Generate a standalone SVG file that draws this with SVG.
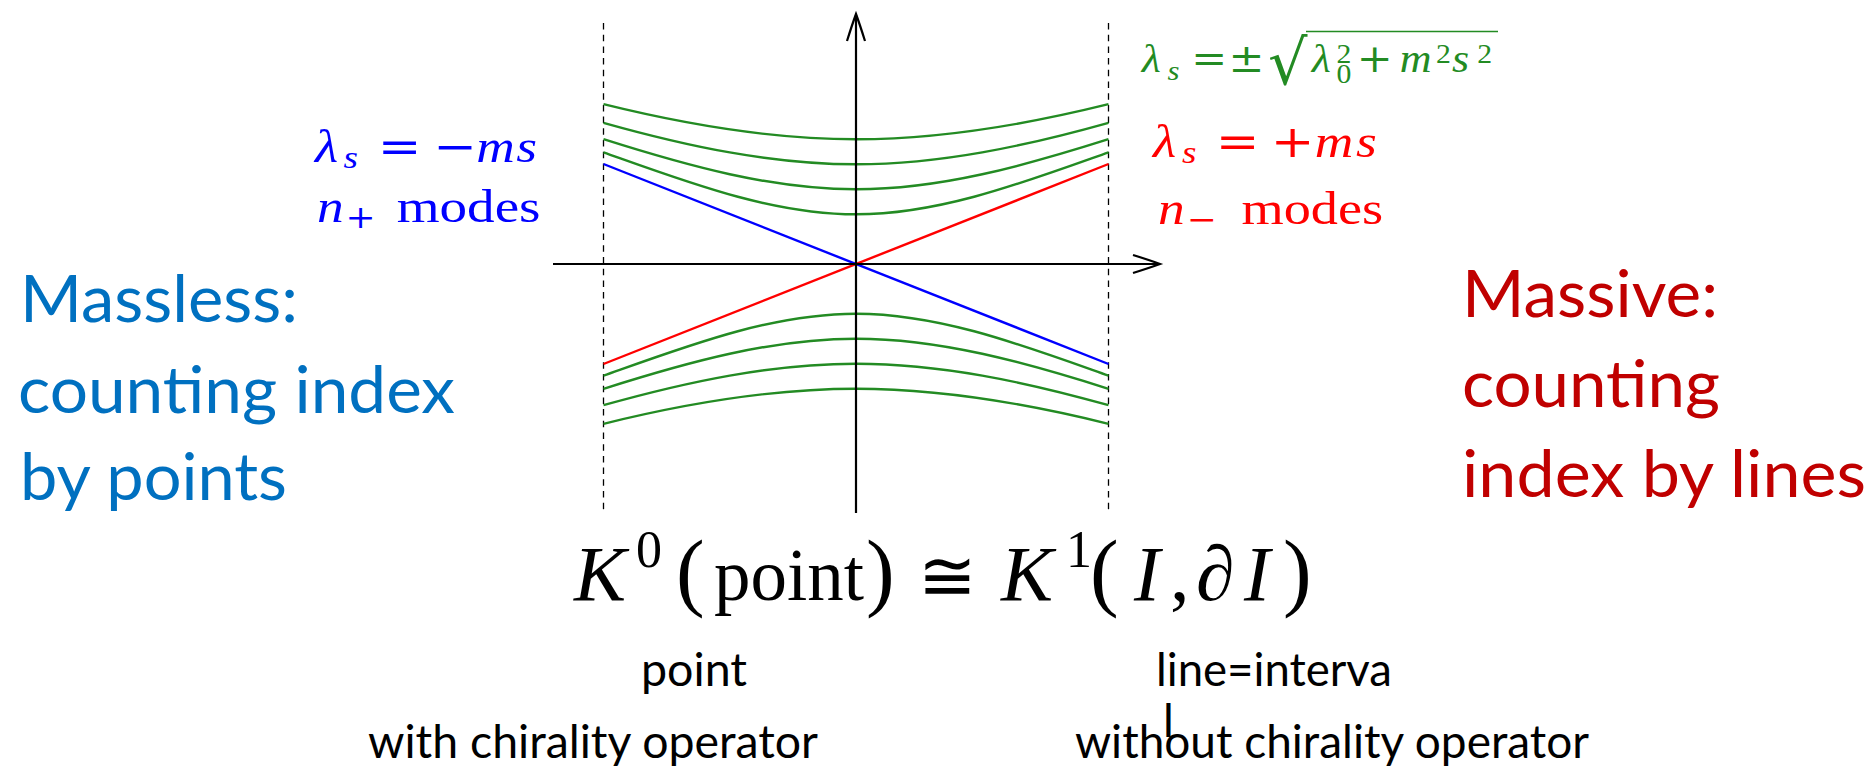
<svg xmlns="http://www.w3.org/2000/svg" width="1872" height="771" viewBox="0 0 1872 771">
<style>
.ax{stroke:#000;stroke-width:2.2;fill:none}
.dash{stroke:#000;stroke-width:1.3;stroke-dasharray:6.5 5.2;fill:none}
.g{stroke:#238b23;stroke-width:2.4;fill:none}
.b{stroke:#0000ff;stroke-width:2.4;fill:none}
.r{stroke:#ff0000;stroke-width:2.4;fill:none}
.m{font-family:"Liberation Serif","DejaVu Serif",serif}
.i{font-style:italic}
.op{font-family:"DejaVu Serif","Liberation Serif",serif}
.cal{font-family:Lato,"Open Sans",sans-serif}
</style>
<rect width="1872" height="771" fill="#fff"/>
<g id="plot">
<line class="dash" x1="603.5" y1="23" x2="603.5" y2="513"/>
<line class="dash" x1="1108.5" y1="23" x2="1108.5" y2="513"/>
<g id="green-curves">
<path class="g" d="M603.5,104.2 C687.67,125.06 771.83,139.3 856,139.3 C940.17,139.3 1024.33,125.06 1108.5,104.2"/>
<path class="g" d="M603.5,122.8 C687.67,146.4 771.83,164.3 856,164.3 C940.17,164.3 1024.33,146.4 1108.5,122.8"/>
<path class="g" d="M603.5,139.2 C687.67,165.9 771.83,189.3 856,189.3 C940.17,189.3 1024.33,165.9 1108.5,139.2"/>
<path class="g" d="M603.5,152.3 C687.67,182.2 771.83,214.3 856,214.3 C940.17,214.3 1024.33,182.2 1108.5,152.3"/>
<path class="g" d="M603.5,375.7 C687.67,345.8 771.83,313.7 856,313.7 C940.17,313.7 1024.33,345.8 1108.5,375.7"/>
<path class="g" d="M603.5,388.8 C687.67,362.1 771.83,338.7 856,338.7 C940.17,338.7 1024.33,362.1 1108.5,388.8"/>
<path class="g" d="M603.5,405.2 C687.67,381.6 771.83,363.7 856,363.7 C940.17,363.7 1024.33,381.6 1108.5,405.2"/>
<path class="g" d="M603.5,423.8 C687.67,402.9 771.83,388.7 856,388.7 C940.17,388.7 1024.33,402.9 1108.5,423.8"/>
</g>
<path id="blue-line" class="b" d="M603.5,164 L1108.5,364"/>
<path id="red-line" class="r" d="M603.5,364 L1108.5,164"/>
<g id="axes">
<line class="ax" x1="856" y1="15" x2="856" y2="513"/>
<line class="ax" x1="553" y1="264" x2="1159" y2="264"/>
<path class="ax" d="M847,41 Q852,25 856,14 Q860,25 865,41"/>
<path class="ax" d="M1133,255 Q1149,260 1160,264 Q1149,268 1133,273"/>
</g>
</g>
<g id="lbl-minus" fill="#0000ff" transform="translate(315,162) scale(1.16,1)">
<text class="m i" font-size="46" x="0" y="0">λ</text>
<text class="m i" font-size="32" x="24.5" y="6">s</text>
<text class="op" font-size="45" x="54" y="0">=</text>
<text class="op" font-size="45" x="102" y="0">−</text>
<text class="m i" font-size="46" x="139" y="0">m</text>
<text class="m i" font-size="46" x="173.5" y="0">s</text>
</g>
<g id="lbl-nplus" fill="#0000ff" transform="translate(317,222) scale(1.16,1)">
<text class="m i" font-size="46" x="0" y="0">n</text>
<text class="op" font-size="31" x="24.5" y="6">+</text>
<text class="m" font-size="46" x="68.7" y="0" textLength="124" lengthAdjust="spacingAndGlyphs">modes</text>
</g>
<g id="lbl-plus" fill="#ff0000" transform="translate(1153,157) scale(1.16,1)">
<text class="m i" font-size="46" x="0" y="0">λ</text>
<text class="m i" font-size="32" x="25" y="6">s</text>
<text class="op" font-size="45" x="54" y="0">=</text>
<text class="op" font-size="45" x="101.5" y="0">+</text>
<text class="m i" font-size="46" x="139.5" y="0">m</text>
<text class="m i" font-size="46" x="175" y="0">s</text>
</g>
<g id="lbl-nminus" fill="#ff0000" transform="translate(1158,224) scale(1.16,1)">
<text class="m i" font-size="46" x="0" y="0">n</text>
<text class="op" font-size="31" x="25" y="6">−</text>
<text class="m" font-size="46" x="72" y="0" textLength="122" lengthAdjust="spacingAndGlyphs">modes</text>
</g>
<g id="lbl-sqrt" fill="#238b23">
<g transform="translate(1141.7,71.7) scale(1.1,1)">
<text class="m i" font-size="40" x="0" y="0">λ</text>
<text class="m i" font-size="28" x="23.5" y="8.3">s</text>
<text class="op" font-size="39" x="45" y="0">=</text>
<text class="op" font-size="39" x="79" y="0">±</text>
<text class="m i" font-size="40" x="154.5" y="0">λ</text>
<text class="m" font-size="27" x="177" y="-9">2</text>
<text class="m" font-size="27" x="177" y="11.6">0</text>
<text class="op" font-size="39" x="195.5" y="0">+</text>
<text class="m i" font-size="40" x="234.5" y="0">m</text>
<text class="m" font-size="27" x="267.5" y="-9">2</text>
<text class="m i" font-size="40" x="282" y="0">s</text>
<text class="m" font-size="27" x="305" y="-9">2</text>
</g>
<text class="op" font-size="62" x="1268" y="84">√</text>
<line x1="1306" y1="31.5" x2="1498" y2="31.5" stroke="#238b23" stroke-width="1.6"/>
</g>
<g id="kformula" fill="#000">
<text class="m i" font-size="78" x="574" y="600">K</text>
<text class="m" font-size="52" x="636" y="567">0</text>
<text class="m" font-size="86" x="676" y="600">(</text>
<text class="m" font-size="75" x="714" y="600" textLength="150" lengthAdjust="spacingAndGlyphs">point</text>
<text class="m" font-size="86" x="866" y="600">)</text>
<text class="op" font-size="70" x="918" y="600">≅</text>
<text class="m i" font-size="78" x="1001" y="600">K</text>
<text class="m" font-size="52" x="1066" y="567">1</text>
<text class="m" font-size="86" x="1090" y="600">(</text>
<text class="m i" font-size="78" x="1134" y="600">I</text>
<text class="m" font-size="78" x="1170" y="600">,</text>
<text class="m i" font-size="78" x="1196" y="600">∂</text>
<text class="m i" font-size="78" x="1244" y="600">I</text>
<text class="m" font-size="86" x="1283" y="600">)</text>
</g>
<g id="massless" class="cal" fill="#0070C0" font-size="66">
<text x="20" y="322" textLength="278" lengthAdjust="spacingAndGlyphs">Massless:</text>
<text x="18" y="413" textLength="437" lengthAdjust="spacingAndGlyphs">counting index</text>
<text x="20" y="500" textLength="267" lengthAdjust="spacingAndGlyphs">by points</text>
</g>
<g id="massive" class="cal" fill="#C00000" font-size="66">
<text x="1462" y="317" textLength="256" lengthAdjust="spacingAndGlyphs">Massive:</text>
<text x="1462" y="407" textLength="258" lengthAdjust="spacingAndGlyphs">counting</text>
<text x="1462" y="497" textLength="404" lengthAdjust="spacingAndGlyphs">index by lines</text>
</g>
<g id="captions" class="cal" fill="#000" font-size="46">
<text x="641" y="686" textLength="106" lengthAdjust="spacingAndGlyphs">point</text>
<text x="368" y="758" textLength="450" lengthAdjust="spacingAndGlyphs">with chirality operator</text>
<text x="1156" y="686" textLength="236" lengthAdjust="spacingAndGlyphs">line=interva</text>
<text x="1163" y="737">l</text>
<text x="1075" y="758" textLength="514" lengthAdjust="spacingAndGlyphs">without chirality operator</text>
</g>
</svg>
